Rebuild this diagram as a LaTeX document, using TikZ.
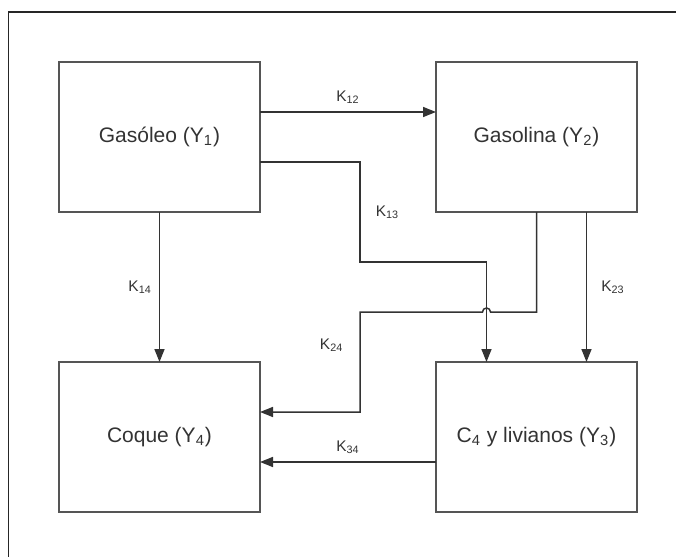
\documentclass[tikz,border=0pt]{standalone}
\usepackage{fontspec}
\setmainfont{Liberation Sans}
\usetikzlibrary{arrows.meta, positioning}
\definecolor{boxgray}{HTML}{555555}
\definecolor{txtgray}{HTML}{333333}
\tikzset{
  block/.style={rectangle, minimum width=100.5pt, minimum height=75pt, inner sep=0pt, outer sep=0pt, text centered, draw=boxgray, line width=1pt, text=txtgray, font=\fontsize{10.5}{12}\selectfont},
  arrow/.style={draw=black!80, line width=0.75pt, ->, >={Triangle[length=6.5pt, width=5pt]}},
  rate/.style={text=txtgray, font=\fontsize{7.7}{9}\selectfont, inner sep=2pt}
}

\begin{document}
\begin{tikzpicture}[node distance=75pt and 88pt]

  \useasboundingbox (0,0) rectangle (338pt,-278.5pt);
  \draw [line width=0.9pt, black!85] (4.25pt,-280pt) -- (4.25pt,-5.85pt) -- (340pt,-5.85pt);

  \node (gasoleo) [block] at (79.75pt,-68.5pt) {Gasóleo (Y\textsubscript{1})};
  \node (gasolina) [block, right=of gasoleo] {Gasolina (Y\textsubscript{2})};
  \node (coque) [block, below=of gasoleo] {Coque (Y\textsubscript{4})};
  \node (livianos) [block, below=of gasolina] {C\textsubscript{4} y livianos (Y\textsubscript{3})};

  \draw [arrow] ([yshift=12.5pt]gasoleo.east) -- node[rate, above=2pt] {K\textsubscript{12}} ([yshift=12.5pt]gasolina.west);
  \draw [arrow] ([yshift=-12.5pt]gasoleo.east) -- ++(50pt,0) coordinate (k13a) -- node[rate, right=5.5pt] {K\textsubscript{13}} ++(0,-50pt) -| ([xshift=-25pt]livianos.north);
  \draw [arrow] (gasoleo) -- node[rate, left=1.5pt] {K\textsubscript{14}} (coque);
  \draw [arrow] ([xshift=25pt]gasolina.south) -- node[rate, right=5pt] {K\textsubscript{23}} ([xshift=25pt]livianos.north);
  \draw [arrow] (gasolina.south) -- ++(0,-50pt) coordinate (k24a) -- ++(-23pt,0) arc[start angle=0, end angle=180, radius=2pt] -- (k24a -| k13a) -- node[rate, left=6pt, pos=0.33] {K\textsubscript{24}} ([yshift=12.5pt]coque.east -| k13a) -- ([yshift=12.5pt]coque.east);
  \draw [arrow] ([yshift=-12.5pt]livianos.west) -- node[rate, above=2pt] {K\textsubscript{34}} ([yshift=-12.5pt]coque.east);

\end{tikzpicture}
\end{document}
